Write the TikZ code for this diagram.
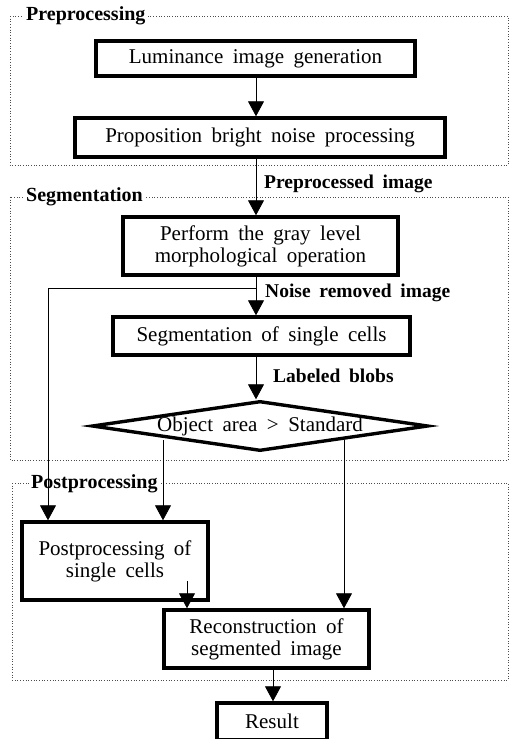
\documentclass[tikz,border=0pt]{standalone}
\usepackage{fontspec}
\setmainfont{Liberation Serif}[WordSpace=1.8]
\usetikzlibrary{arrows.meta,shapes.geometric}
\begin{document}
\begin{tikzpicture}[x=1pt,y=-1pt,
  procbox/.style={draw,line width=3.4pt,rectangle,inner sep=0pt,align=center,
    font=\fontsize{21}{22}\selectfont},
  frame/.style={draw=black!70,line width=0.7pt,dotted},
  ftitle/.style={anchor=west,fill=white,inner sep=2pt,font=\fontsize{20}{22}\selectfont\bfseries},
  elabel/.style={anchor=west,inner sep=0pt,font=\fontsize{19.5}{22}\selectfont\bfseries},
  conn/.style={line width=0.8pt},
  arr/.style={conn,-{Triangle[width=16pt,length=15pt]}}]
\useasboundingbox (0,0) rectangle (512,739);
% frames
\draw[frame] (10,16) rectangle (508,165);
\draw[frame] (10,197) rectangle (508,460);
\draw[frame] (12,483) rectangle (508,680);
\node[ftitle] (t1) at (24,16) {Preprocessing};
\node[ftitle] (t2) at (24,197) {Segmentation};
\node[ftitle] (t3) at (29,484) {Postprocessing};
% boxes
\node[procbox,minimum width=319pt,minimum height=35pt] (b1) at (255.5,58.5) {Luminance image generation};
\node[procbox,minimum width=370pt,minimum height=39pt] (b2) at (260,137.5) {Proposition bright noise processing};
\node[procbox,minimum width=275pt,minimum height=58pt] (b3) at (260.5,246) {Perform the gray level\\morphological operation};
\node[procbox,minimum width=297pt,minimum height=38pt] (b4) at (261.5,336) {Segmentation of single cells};
\node[procbox,shape=diamond,aspect=6.85,minimum width=334pt,minimum height=50pt] (d) at (260,426) {Object area > Standard};
\node[procbox,minimum width=186pt,minimum height=78pt] (b5) at (115,561) {Postprocessing of\\single cells};
\node[procbox,minimum width=205pt,minimum height=58pt] (b6) at (266.5,639) {Reconstruction of\\segmented image};
\node[procbox,minimum width=110pt,minimum height=37pt] (res) at (272,721.5) {Result};
% helper coordinates
\coordinate (sp) at (256,0);
\coordinate (br) at (256,288);
\coordinate (bl) at (48,288);
\coordinate (dl) at (163,440);
\coordinate (dr) at (344,440);
\coordinate (s5) at (187,581);
\coordinate (rx) at (273,0);
% connectors
\draw[arr] (b1.south -| sp) -- (b2.north -| sp);
\draw[arr] (b2.south -| sp) -- (b3.north -| sp);
\draw[arr] (b3.south -| sp) -- (b4.north -| sp);
\draw[arr] (b4.south -| sp) -- (d.north -| sp);
\draw[arr] (br) -- (bl) -- (bl |- b5.north);
\draw[arr] (dl) -- (dl |- b5.north);
\draw[arr] (dr) -- (dr |- b6.north);
\draw[arr] (s5) -- (s5 |- b6.north);
\draw[arr] (b6.south -| rx) -- (res.north -| rx);
% labels
\node[elabel] (l1) at (264,184) {Preprocessed image};
\node[elabel] (l2) at (265,293) {Noise removed image};
\node[elabel] (l3) at (273,376) {Labeled blobs};
\end{tikzpicture}
\end{document}
